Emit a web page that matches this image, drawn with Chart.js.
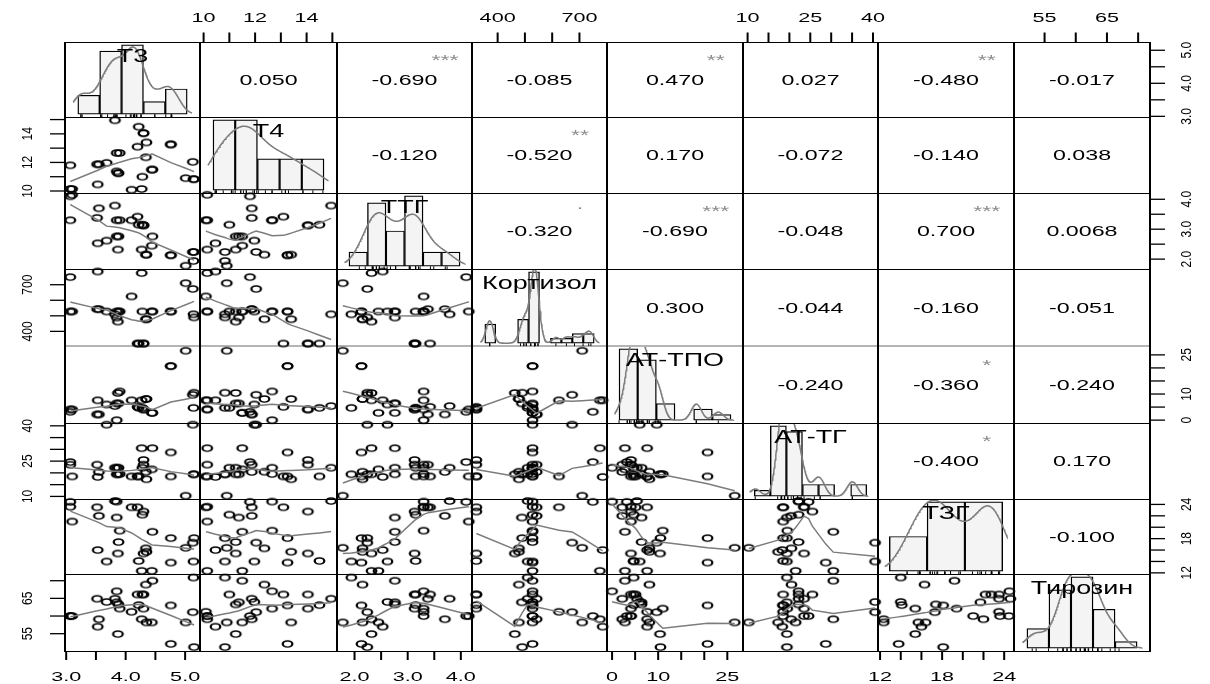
<!DOCTYPE html>
<html lang="ru">
<head>
<meta charset="utf-8">
<title>Correlation matrix</title>
<script src="https://cdn.jsdelivr.net/npm/chart.js@4.4.1/dist/chart.umd.min.js"></script>
<style>
  html, body { margin: 0; padding: 0; background: #ffffff; }
  canvas { display: block; }
</style>
</head>
<body>
<canvas id="grafico" width="1210" height="684"></canvas>
<script>
// Data: 30 patients, 8 variables
const nombres = ["T3", "T4", "ТТГ", "Кортизол", "АТ-ТПО", "АТ-ТГ", "ТЗГ", "Тирозин"];
const t3 = [3.07, 3.07, 3.10, 3.52, 3.53, 3.55, 3.68, 3.82, 3.85, 3.85, 3.87, 3.88, 3.90, 4.10, 4.20,
            4.22, 4.27, 4.28, 4.30, 4.30, 4.34, 4.35, 4.45, 4.44, 4.76, 4.76, 5.01, 5.13, 5.14, 5.15];
const t4 = [11.8, 10.14, 10.14, 11.87, 10.46, 11.87, 11.97, 14.95, 12.66, 11.37, 11.25, 11.25, 12.66, 10.09, 13.1,
            14.5, 10.14, 11.0, 14.05, 14.05, 12.36, 13.4, 11.5, 11.5, 13.26, 13.26, 10.9, 12.04, 10.83, 10.83];
const ttg = [4.10, 3.30, 4.15, 3.38, 2.53, 3.70, 2.62, 3.79, 3.30, 2.76, 2.32, 2.76, 3.30, 3.30, 3.42,
             3.15, 2.32, 3.15, 3.13, 3.13, 2.15, 2.15, 2.76, 2.45, 2.13, 2.13, 1.78, 2.24, 1.94, 2.24];
const cortizol = [749, 528, 528, 543, 785, 543, 528, 510, 528, 489, 463, 528, 528, 625, 322,
                  322, 775, 528, 322, 322, 478, 478, 528, 528, 528, 528, 710, 673, 510, 490];
const atTpo = [3.2, 4.1, 4.1, 2.2, 7.6, 2.2, 6.0, 5.4, 0.0, 6.4, 10.4, 6.4, 11.0, 7.6, 5.1,
               4.7, 7.6, 4.7, 4.1, 4.1, 8.1, 8.1, 2.8, 2.8, 20.7, 20.7, 26.6, 9.7, 4.7, 10.5];
const atTg = [24.6, 23.5, 18.5, 23.5, 18.3, 20.4, 40.5, 22.2, 22.2, 19.4, 19.4, 22.2, 19.5, 18.5, 18.5,
              18.5, 30.5, 22.2, 25.5, 23.5, 20.5, 17.3, 30.5, 21.5, 28.7, 18.5, 10.3, 40.5, 19.4, 19.4];
const tzg = [24.45, 23.6, 21.0, 23.5, 16.0, 22.0, 14.0, 24.6, 24.5, 21.7, 15.4, 17.4, 19.4, 23.5, 23.5,
             14.1, 12.35, 22.2, 22.75, 15.4, 16.3, 15.7, 19.2, 12.35, 13.8, 18.1, 16.4, 17.3, 14.0, 18.1];
const tirozin = [60.0, 60.0, 60.0, 64.9, 57.0, 59.1, 64.0, 64.9, 67.0, 63.9, 54.9, 63.3, 62.1, 61.2, 66.1,
                 63.1, 59.1, 66.1, 66.1, 62.1, 68.9, 58.2, 70.0, 58.2, 52.1, 63.0, 58.2, 61.1, 70.9, 51.2];

// axis range of every variable (panel edge to panel edge)
const limites = [[2.98, 5.25], [9.86, 15.18], [1.67, 4.21], [306, 801],
                 [-1.1, 28.4], [8.9, 41.2], [11.8, 24.95], [50.1, 71.9]];
// histogram breaks
const cortes = [[3, 3.5, 4, 4.5, 5, 5.5], [10, 11, 12, 13, 14, 15], [1.5, 2, 2.5, 3, 3.5, 4, 4.5],
                [300, 350, 400, 450, 500, 550, 600, 650, 700, 750, 800], [0, 5, 10, 15, 20, 25, 30],
                [10, 15, 20, 25, 30, 35, 40, 45], [10, 15, 20, 25], [50, 55, 60, 65, 70, 75]];
// outer axis ticks and the ones that carry a label
const marcas = [[3, 3.5, 4, 4.5, 5], [10, 11, 12, 13, 14, 15], [2, 2.5, 3, 3.5, 4], [400, 500, 600, 700],
                [0, 5, 10, 15, 20, 25], [10, 15, 20, 25, 30, 35, 40], [12, 14, 16, 18, 20, 22, 24], [55, 60, 65, 70]];
const etiquetas = [["3.0", "4.0", "5.0"], ["10", "12", "14"], ["2.0", "3.0", "4.0"], ["400", "700"],
                   ["0", "10", "25"], ["10", "25", "40"], ["12", "18", "24"], ["55", "65"]];
// upper panels, row by row
const corrTexto = ["0.050", "-0.690", "-0.085", "0.470", "0.027", "-0.480", "-0.017",
                   "-0.120", "-0.520", "0.170", "-0.072", "-0.140", "0.038",
                   "-0.320", "-0.690", "-0.048", "0.700", "0.0068",
                   "0.300", "-0.044", "-0.160", "-0.051",
                   "-0.240", "-0.360", "-0.240",
                   "-0.400", "0.170",
                   "-0.100"];
const corrSig = ["", "***", "", "**", "", "**", "",
                 "", "**", "", "", "", "",
                 ".", "***", "", "***", "",
                 "", "", "", "",
                 "", "*", "",
                 "*", "",
                 ""];

const vars = [t3, t4, ttg, cortizol, atTpo, atTg, tzg, tirozin];

// panel grid (pixels)
const COLS = [65, 200, 337, 472, 607, 743, 878, 1014, 1150];
const ROWS = [42, 117, 193, 269, 346, 423, 499, 574, 651];
const FONT = '"Liberation Sans", Arial, sans-serif';
const GRIS = '#7c7c7c';

// R lowess (clowess port)
function lowess(xIn, yIn, f, iter) {
  const n = xIn.length;
  const ord = xIn.map((_, i) => i).sort((a, b) => xIn[a] - xIn[b]);
  const x = ord.map(i => xIn[i]), y = ord.map(i => yIn[i]);
  const ys = new Array(n).fill(0), rw = new Array(n).fill(1), res = new Array(n).fill(0);
  const ns = Math.max(2, Math.min(n, Math.floor(f * n + 1e-7)));
  const rango = x[n - 1] - x[0];
  for (let it = 0; it <= iter; it++) {
    let nleft = 0, nright = ns - 1;
    for (let i = 0; i < n; i++) {
      while (nright < n - 1) {
        if (x[i] - x[nleft] <= x[nright + 1] - x[i]) break;
        nleft++; nright++;
      }
      const h = Math.max(x[i] - x[nleft], x[nright] - x[i]);
      const h9 = 0.999 * h, h1 = 0.001 * h;
      const w = new Array(n).fill(0);
      let a = 0, j;
      for (j = nleft; j < n; j++) {
        const r = Math.abs(x[j] - x[i]);
        if (r <= h9) {
          w[j] = (r <= h1 ? 1 : Math.pow(1 - Math.pow(r / h, 3), 3)) * rw[j];
          a += w[j];
        } else if (x[j] > x[i]) break;
      }
      const nrt = j - 1;
      if (a <= 0) { ys[i] = y[i]; continue; }
      for (let k = nleft; k <= nrt; k++) w[k] /= a;
      if (h > 0) {
        let m = 0;
        for (let k = nleft; k <= nrt; k++) m += w[k] * x[k];
        let b = x[i] - m, c = 0;
        for (let k = nleft; k <= nrt; k++) c += w[k] * (x[k] - m) * (x[k] - m);
        if (Math.sqrt(c) > 0.001 * rango) {
          b /= c;
          for (let k = nleft; k <= nrt; k++) w[k] *= (b * (x[k] - m) + 1);
        }
      }
      let s = 0;
      for (let k = nleft; k <= nrt; k++) s += w[k] * y[k];
      ys[i] = s;
    }
    if (it >= iter) break;
    for (let i = 0; i < n; i++) res[i] = Math.abs(y[i] - ys[i]);
    const srt = res.slice().sort((p, q) => p - q);
    const m1 = Math.floor(n / 2);
    const cmad = n % 2 === 0 ? 3 * (srt[m1 - 1] + srt[m1]) : 6 * srt[m1];
    if (cmad < 1e-7) break;
    for (let i = 0; i < n; i++) {
      const r = res[i];
      rw[i] = r <= 0.001 * cmad ? 1 : r <= 0.999 * cmad ? Math.pow(1 - Math.pow(r / cmad, 2), 2) : 0;
    }
  }
  return x.map((v, i) => ({ x: v, y: ys[i] }));
}

function cuantil(s, p) {
  const h = (s.length - 1) * p, lo = Math.floor(h);
  return s[lo] + (h - lo) * ((s[lo + 1] !== undefined ? s[lo + 1] : s[lo]) - s[lo]);
}

// gaussian density with bw.nrd0, scaled to histogram counts
function densidad(vals, ancho) {
  const n = vals.length;
  const s = vals.slice().sort((a, b) => a - b);
  const media = vals.reduce((a, b) => a + b, 0) / n;
  const sd = Math.sqrt(vals.reduce((a, b) => a + (b - media) * (b - media), 0) / (n - 1));
  const iqr = cuantil(s, 0.75) - cuantil(s, 0.25);
  let lo = Math.min(sd, iqr / 1.34);
  if (!(lo > 0)) lo = sd || 1;
  const bw = 0.9 * lo * Math.pow(n, -0.2);
  const desde = s[0] - 3 * bw, hasta = s[n - 1] + 3 * bw;
  const out = [];
  for (let k = 0; k < 256; k++) {
    const t = desde + (hasta - desde) * k / 255;
    let d = 0;
    vals.forEach(v => { const u = (t - v) / bw; d += Math.exp(-0.5 * u * u); });
    out.push({ x: t, y: d / (n * bw * Math.sqrt(2 * Math.PI)) * n * ancho });
  }
  return out;
}

function contar(vals, br) {
  const c = new Array(br.length - 1).fill(0);
  vals.forEach(v => {
    for (let k = 0; k < br.length - 1; k++) {
      if ((v > br[k] || (k === 0 && v >= br[0])) && v <= br[k + 1]) { c[k]++; break; }
    }
  });
  return c;
}

// open circle, a bit wider than tall like in the picture
function anillo() {
  const c = document.createElement('canvas');
  c.width = 15; c.height = 10;
  const g = c.getContext('2d');
  g.translate(7.5, 5);
  g.scale(1.55, 1);
  g.beginPath();
  g.arc(0, 0, 3.1, 0, Math.PI * 2);
  g.lineWidth = 1.45;
  g.strokeStyle = '#000';
  g.stroke();
  return c;
}
const ring = anillo();

// scales and datasets
const scales = {};
const datasets = [];
for (let v = 0; v < 8; v++) {
  scales['x' + v] = { type: 'linear', axis: 'x', display: false, min: limites[v][0], max: limites[v][1] };
  scales['y' + v] = { type: 'linear', axis: 'y', display: false, min: limites[v][0], max: limites[v][1] };

  const br = cortes[v];
  const span = br[br.length - 1] - br[0];
  const cuentas = contar(vars[v], br);
  const top = Math.max(...cuentas);
  scales['xh' + v] = {
    type: 'linear', axis: 'x', display: false,
    min: br[0] - 0.04 * span, max: br[br.length - 1] + 0.04 * span
  };
  scales['yh' + v] = { type: 'linear', axis: 'y', display: false, min: -0.04 * top, max: 1.04 * top };

  datasets.push({
    type: 'bar',
    data: cuentas.map((c, k) => ({ x: (br[k] + br[k + 1]) / 2, y: c })),
    xAxisID: 'xh' + v, yAxisID: 'yh' + v,
    backgroundColor: '#f4f4f4', borderColor: '#000',
    borderWidth: { left: 1.4, right: 1.4, top: 1.2, bottom: 1.2 },
    borderSkipped: false,
    grouped: false,
    // one bin wide, measured on the histogram's own x scale
    barThickness: c => {
      const s = c.chart.scales['xh' + v];
      return Math.abs(s.getPixelForValue(br[1]) - s.getPixelForValue(br[0]));
    },
    order: 5, clip: false
  });
  datasets.push({
    type: 'line',
    data: densidad(vars[v], br[1] - br[0]),
    xAxisID: 'xh' + v, yAxisID: 'yh' + v,
    borderColor: GRIS, borderWidth: 1.5, pointRadius: 0, fill: false, tension: 0,
    order: 4, clip: false, panelClip: v
  });
  const alto = 1.08 * top;
  const yRug = -0.04 * top + alto * 1.3 / (ROWS[v + 1] - ROWS[v]);
  datasets.push({
    type: 'scatter',
    data: vars[v].map(val => ({ x: val, y: yRug })),
    xAxisID: 'xh' + v, yAxisID: 'yh' + v,
    pointStyle: 'line', rotation: 90, pointRadius: 1.4,
    borderColor: '#000', borderWidth: 1, order: 3, clip: false
  });
}

for (let i = 0; i < 8; i++) {
  for (let j = 0; j < i; j++) {
    datasets.push({
      type: 'scatter',
      data: vars[j].map((val, k) => ({ x: val, y: vars[i][k] })),
      xAxisID: 'x' + j, yAxisID: 'y' + i,
      pointStyle: ring, pointRadius: 4, borderWidth: 0,
      order: 2, clip: false
    });
    datasets.push({
      type: 'line',
      data: lowess(vars[j], vars[i], 2 / 3, 3),
      xAxisID: 'x' + j, yAxisID: 'y' + i,
      borderColor: GRIS, borderWidth: 1.5, pointRadius: 0, fill: false, tension: 0,
      order: 1, clip: false
    });
  }
}

function colocar(s, l, r, t, b) {
  s.left = l; s.right = r; s.top = t; s.bottom = b;
  s.width = r - l; s.height = b - t;
  s.configure();
}

function texto(ctx, str, x, y, size, sx, sy, color, rot, lift) {
  ctx.save();
  ctx.translate(x, y);
  if (rot) ctx.rotate(rot);
  ctx.scale(sx, sy);
  ctx.font = size + 'px ' + FONT;
  ctx.fillStyle = color;
  ctx.textAlign = 'center';
  ctx.textBaseline = 'alphabetic';
  ctx.fillText(str, 0, (lift === undefined ? 0.358 : lift) * size);
  ctx.restore();
}

const rejilla = {
  id: 'rejilla',
  afterLayout(chart) {
    for (let v = 0; v < 8; v++) {
      colocar(chart.scales['x' + v], COLS[v], COLS[v + 1], ROWS[0], ROWS[8]);
      colocar(chart.scales['y' + v], COLS[0], COLS[8], ROWS[v], ROWS[v + 1]);
      colocar(chart.scales['xh' + v], COLS[v], COLS[v + 1], ROWS[v], ROWS[v + 1]);
      colocar(chart.scales['yh' + v], COLS[v], COLS[v + 1], ROWS[v], ROWS[v + 1]);
    }
  },
  beforeDatasetsDraw(chart) {
    const ctx = chart.ctx;
    ctx.save();
    for (let r = 0; r <= 8; r++) {
      ctx.beginPath();
      if (r === 4) {
        ctx.lineWidth = 1; ctx.strokeStyle = '#6a6a6a';
        ctx.moveTo(COLS[0], ROWS[r]); ctx.lineTo(COLS[8], ROWS[r]);
      } else {
        ctx.lineWidth = 1; ctx.strokeStyle = '#000';
        ctx.moveTo(COLS[0], ROWS[r] + 0.5); ctx.lineTo(COLS[8], ROWS[r] + 0.5);
      }
      ctx.stroke();
    }
    ctx.lineWidth = 2; ctx.strokeStyle = '#000';
    for (let c = 0; c <= 8; c++) {
      ctx.beginPath();
      ctx.moveTo(COLS[c], ROWS[0]); ctx.lineTo(COLS[c], ROWS[8] + 1);
      ctx.stroke();
    }
    ctx.restore();
  },
  beforeDatasetDraw(chart, args) {
    const ds = chart.data.datasets[args.index];
    if (ds.panelClip !== undefined) {
      const v = ds.panelClip, ctx = chart.ctx;
      ctx.save();
      ctx.beginPath();
      ctx.rect(COLS[v], ROWS[v] + 1, COLS[v + 1] - COLS[v], ROWS[v + 1] - ROWS[v] - 1);
      ctx.clip();
    }
  },
  afterDatasetDraw(chart, args) {
    const ds = chart.data.datasets[args.index];
    if (ds.panelClip !== undefined) chart.ctx.restore();
  },
  afterDatasetsDraw(chart) {
    const ctx = chart.ctx;
    // correlation numbers and stars
    let k = 0;
    for (let i = 0; i < 8; i++) {
      for (let j = i + 1; j < 8; j++) {
        const l = COLS[j], r = COLS[j + 1], t = ROWS[i], b = ROWS[i + 1];
        texto(ctx, corrTexto[k], (l + r) / 2, (t + b) / 2, 14, 1.66, 1, '#000');
        const sig = corrSig[k];
        if (sig) {
          texto(ctx, sig, l + 0.8 * (r - l), t + 0.2 * (b - t), 14, 1.66, 1, '#8a8a8a',
                0, sig === '.' ? 0.05 : 0.58);
        }
        k++;
      }
    }
    // variable names on the diagonal
    for (let v = 0; v < 8; v++) {
      texto(ctx, nombres[v], (COLS[v] + COLS[v + 1]) / 2, ROWS[v] + 13.5, 19, 1.42, 1, '#000');
    }
    // outer axes
    ctx.save();
    ctx.strokeStyle = '#000';
    for (let v = 0; v < 8; v++) {
      const sx = chart.scales['x' + v], sy = chart.scales['y' + v];
      const fmt = val => (v === 0 || v === 2) ? val.toFixed(1) : String(val);
      const arriba = v % 2 === 1;
      ctx.lineWidth = 2;
      marcas[v].forEach(val => {
        const px = sx.getPixelForValue(val);
        ctx.beginPath();
        if (arriba) { ctx.moveTo(px, ROWS[0] - 9.5); ctx.lineTo(px, ROWS[0]); }
        else { ctx.moveTo(px, ROWS[8]); ctx.lineTo(px, ROWS[8] + 9); }
        ctx.stroke();
      });
      ctx.lineWidth = 1.3;
      marcas[v].forEach(val => {
        const py = sy.getPixelForValue(val);
        ctx.beginPath();
        if (arriba) { ctx.moveTo(COLS[0] - 15, py); ctx.lineTo(COLS[0], py); }
        else { ctx.moveTo(COLS[8], py); ctx.lineTo(COLS[8] + 15, py); }
        ctx.stroke();
      });
      etiquetas[v].forEach(lab => {
        const val = parseFloat(lab);
        const px = sx.getPixelForValue(val), py = sy.getPixelForValue(val);
        texto(ctx, fmt(val), px, arriba ? 17.5 : 676, 13.5, 1.6, 1, '#000');
        texto(ctx, fmt(val), arriba ? 27 : 1186, py, 12, 1.0, 1.25, '#000', -Math.PI / 2);
      });
    }
    ctx.restore();
  }
};

const ctx = document.getElementById('grafico').getContext('2d');
const chart = new Chart(ctx, {
  type: 'scatter',
  data: { datasets: datasets },
  options: {
    responsive: false,
    animation: false,
    devicePixelRatio: 1,
    events: [],
    layout: { padding: 0 },
    plugins: { legend: { display: false }, tooltip: { enabled: false } },
    scales: scales
  },
  plugins: [rejilla]
});
</script>
</body>
</html>
